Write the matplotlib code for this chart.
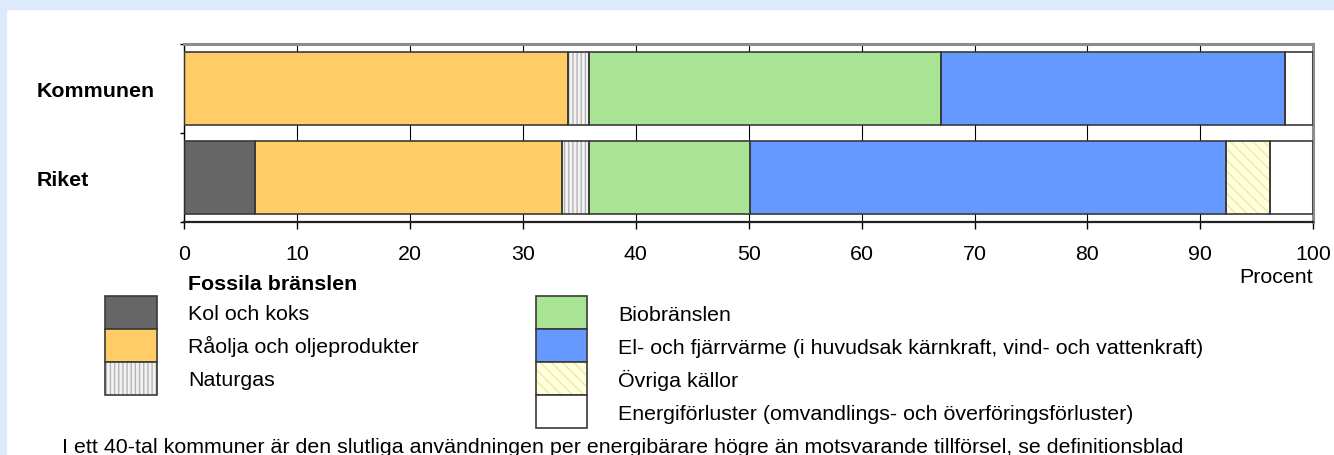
import numpy as np
import matplotlib
matplotlib.use('Agg')
from matplotlib import pyplot as plt
from matplotlib.patches import Rectangle

plt.rcParams['font.family'] = ['Liberation Sans', 'DejaVu Sans']
plt.rcParams['hatch.linewidth'] = 1.0

# Energy supply shares (percent), bottom row first
categories = ['Riket', 'Kommunen']
kol = [6.3, 0.0]
olja = [27.2, 34.0]
naturgas = [2.4, 1.9]
bio = [14.2, 31.1]
el = [42.2, 30.5]
ovriga = [3.9, 0.0]
forluster = [3.8, 2.5]

series_labels = ['Kol och koks', 'Råolja och oljeprodukter', 'Naturgas',
                 'Biobränslen',
                 'El- och fjärrvärme (i huvudsak kärnkraft, vind- och vattenkraft)',
                 'Övriga källor',
                 'Energiförluster (omvandlings- och överföringsförluster)']
x_ticks = list(range(0, 101, 10))

series = [kol, olja, naturgas, bio, el, ovriga, forluster]
facecolors = ['#666666', '#ffcc66', '#f2f2f2', '#a8e494', '#6699ff', '#ffffe0', 'white']
hatches = [None, None, '||||', None, None, '\\\\\\', None]
hatchcolors = ['#666666', '#ffcc66', '#b4b4b4', '#a8e494', '#6699ff', '#ecec9c', 'white']
edge = '#3a3a3a'
fs = 15.4

fig = plt.figure(figsize=(13.34, 4.56), dpi=100)
ax = fig.add_axes([184 / 1334, 1 - 223 / 456, 1129.3 / 1334, 178 / 456])

# light blue frame bands
fig.patches.append(Rectangle((0, 1 - 10 / 456), 1, 10 / 456, transform=fig.transFigure,
                             color='#dceafb', zorder=0))
fig.patches.append(Rectangle((0, 0), 6 / 1334, 1, transform=fig.transFigure,
                             color='#dceafb', zorder=0))

y = np.arange(len(categories))
left = np.zeros(len(categories))
handles = []
for vals, fc, h, hc in zip(series, facecolors, hatches, hatchcolors):
    vals = np.array(vals)
    # fill layer carries the hatch colour, outline layer draws the dark border
    fill = ax.barh(y, vals, left=left, height=0.83, color=fc, hatch=h,
                   edgecolor=hc, linewidth=0, zorder=2)
    outline = ax.barh(y, vals, left=left, height=0.83, fill=False,
                      edgecolor=edge, linewidth=1.2, zorder=3)
    handles.append((fill, outline))
    left += vals

ax.set_xlim(0, 100)
ax.set_ylim(-0.5, 1.5)
ax.set_xticks(x_ticks)
ax.tick_params(axis='x', direction='out', length=5, width=1, pad=10.5, labelsize=fs)
ax.set_yticks(y)
ax.set_yticklabels(categories, fontweight='bold', fontsize=fs, ha='left')
ax.tick_params(axis='y', which='major', length=0, pad=105.8)
ax.set_yticks([-0.5, 0.5, 1.5], minor=True)
ax.tick_params(axis='y', which='minor', direction='out', length=3, width=1)

ax.xaxis.grid(True, color='black', linewidth=0.8)
ax.set_axisbelow(True)

for side in ['top', 'right']:
    ax.spines[side].set_color('#8c8c8c')
    ax.spines[side].set_linewidth(2.2)
ax.spines['bottom'].set_color('#222222')
ax.spines['bottom'].set_linewidth(1.6)
ax.spines['left'].set_color('black')
ax.spines['left'].set_linewidth(1.0)

ax.set_xlabel('Procent', loc='right', fontsize=fs, labelpad=3)

# legend, two blocks
fig.text(188 / 1334, 1 - 284 / 456, 'Fossila bränslen', fontsize=fs,
         fontweight='bold', va='center')
leg_kw = dict(loc='upper left', bbox_transform=fig.transFigure, frameon=False,
              borderpad=0, borderaxespad=0, labelspacing=0, handlelength=2.40,
              handleheight=2.0, handletextpad=1.46, fontsize=fs)
leg1 = fig.legend(handles[:3], series_labels[:3],
                  bbox_to_anchor=(105.3 / 1334, 1 - 296.7 / 456), **leg_kw)
leg2 = fig.legend(handles[3:], series_labels[3:],
                  bbox_to_anchor=(535.7 / 1334, 1 - 297.3 / 456), **leg_kw)

fig.text(62 / 1334, 1 - 448 / 456,
         'I ett 40-tal kommuner är den slutliga användningen per energibärare '
         'högre än motsvarande tillförsel, se definitionsblad',
         fontsize=fs, va='center')

fig.savefig('out.png', dpi=100)
